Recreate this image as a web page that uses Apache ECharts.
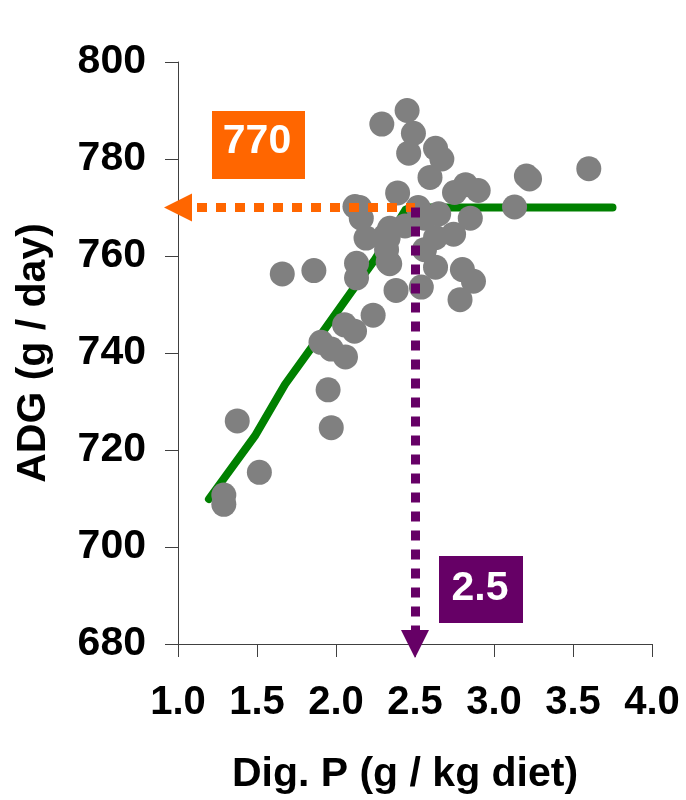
<!DOCTYPE html>
<html>
<head>
<meta charset="utf-8">
<title>ADG vs Dig. P</title>
<script src="https://cdn.jsdelivr.net/npm/echarts@6/dist/echarts.min.js"></script>
<style>
  html, body { margin: 0; padding: 0; background: #fff; }
  #chart { width: 686px; height: 800px; }
</style>
</head>
<body>
<div id="chart"></div>
<script>
// 散点数据 [Dig. P, ADG]
const pointX = [1.29, 1.29, 1.375, 1.515, 1.66, 1.86, 1.905, 1.97, 1.95, 1.97,
  2.06, 2.054, 2.117, 2.235, 2.12, 2.15, 2.16, 2.19, 2.13, 2.13,
  2.29, 2.45, 2.49, 2.46, 2.63, 2.67, 2.595, 2.39, 2.82, 2.75,
  2.9, 3.205, 3.225, 3.6, 3.13, 2.52, 2.65, 2.85, 2.34, 2.437,
  2.31, 2.32, 2.34, 2.63, 2.8, 2.87, 2.785, 2.38, 2.54, 2.63,
  2.744, 2.56, 2.56, 2.33, 2.33];
const pointY = [710.7, 708.8, 726.0, 715.4, 756.3, 757.0, 742.2, 740.8, 732.4, 724.6,
  739.2, 745.8, 744.5, 747.8, 770.2, 770.0, 767.8, 763.7, 758.5, 755.5,
  787.2, 790.0, 785.3, 781.2, 782.2, 780.0, 776.2, 773.0, 774.7, 773.1,
  773.5, 776.5, 775.9, 778.0, 770.1, 770.0, 768.7, 767.8, 765.7, 766.2,
  764.1, 761.3, 758.4, 757.7, 757.2, 754.8, 751.0, 752.9, 753.6, 763.8,
  764.5, 767.8, 761.3, 763.7, 758.8];

// 拟合线
const fitX = [1.196, 1.487, 1.677, 1.867, 2.099, 2.247, 2.44, 2.47, 3.75];
const fitY = [709.9, 722.9, 733.5, 742.1, 752.7, 759.3, 769.5, 770.0, 770.0];

// 读数
const plateauY = 770;
const breakX = 2.5;

const xTicks = { min: 1, max: 4, interval: 0.5 };
const yTicks = { min: 680, max: 800, interval: 20 };

const font = 'Liberation Sans, Arial, sans-serif';

const chart = echarts.init(document.getElementById('chart'), null, { renderer: 'canvas' });

const axisLineStyle = { color: '#404040', width: 1 };

const option = {
  backgroundColor: '#fff',
  animation: false,
  grid: { left: 178, right: 34, top: 62, bottom: 155 },
  xAxis: {
    type: 'value',
    min: xTicks.min,
    max: xTicks.max,
    interval: xTicks.interval,
    name: 'Dig. P (g / kg diet)',
    nameLocation: 'middle',
    nameGap: 110,
    nameTextStyle: { fontFamily: font, fontWeight: 'bold', fontSize: 41, color: '#000', padding: [0, 20, 0, 0] },
    axisLine: { show: true, onZero: false, lineStyle: axisLineStyle },
    axisTick: { show: true, length: 13, lineStyle: axisLineStyle },
    splitLine: { show: false },
    axisLabel: {
      margin: 39,
      fontFamily: font,
      fontWeight: 'bold',
      fontSize: 40,
      color: '#000',
      formatter: (v) => v.toFixed(1),
    },
  },
  yAxis: {
    type: 'value',
    min: yTicks.min,
    max: yTicks.max,
    interval: yTicks.interval,
    name: 'ADG (g / day)',
    nameLocation: 'middle',
    nameGap: 124,
    nameTextStyle: { fontFamily: font, fontWeight: 'bold', fontSize: 41, color: '#000' },
    axisLine: { show: true, onZero: false, lineStyle: axisLineStyle },
    axisTick: { show: true, length: 13, lineStyle: axisLineStyle },
    splitLine: { show: false },
    axisLabel: {
      margin: 32,
      fontFamily: font,
      fontWeight: 'bold',
      fontSize: 41,
      color: '#000',
    },
  },
  series: [
    {
      // 绿色拟合线
      type: 'line',
      data: fitX.map((x, i) => [x, fitY[i]]),
      showSymbol: false,
      symbol: 'none',
      lineStyle: { color: '#008000', width: 8, cap: 'round', join: 'round' },
      z: 2,
    },
    {
      // 灰色散点
      type: 'scatter',
      data: pointX.map((x, i) => [x, pointY[i]]),
      symbolSize: 25,
      itemStyle: { color: '#808080', opacity: 1 },
      z: 3,
    },
    {
      // 虚线箭头
      type: 'line',
      data: [],
      z: 5,
      markLine: {
        silent: true,
        animation: false,
        label: { show: false },
        data: [
          [
            { coord: [xTicks.min, plateauY], symbol: 'triangle', symbolSize: [28, 28],
              lineStyle: { color: '#FF6600', width: 9, type: [10, 9], cap: 'butt' } },
            { coord: [breakX, plateauY], symbol: 'none' },
          ],
          [
            { coord: [breakX, plateauY], symbol: 'none',
              lineStyle: { color: '#660066', width: 9, type: [10, 9], cap: 'butt' } },
            { coord: [breakX, yTicks.min], symbol: 'triangle', symbolSize: [28, 28] },
          ],
        ],
      },
    },
  ],
  graphic: [
    { type: 'rect', left: 212, top: 111, shape: { width: 93, height: 68 }, style: { fill: '#FF6600' }, z: 10 },
    { type: 'text', x: 257, y: 142, style: { text: String(plateauY), fill: '#fff', font: 'bold 41px ' + font, textAlign: 'center', textVerticalAlign: 'middle' }, z: 11 },
    { type: 'rect', left: 439, top: 556, shape: { width: 84, height: 67 }, style: { fill: '#660066' }, z: 10 },
    { type: 'text', x: 480, y: 589, style: { text: breakX.toFixed(1), fill: '#fff', font: 'bold 41px ' + font, textAlign: 'center', textVerticalAlign: 'middle' }, z: 11 },
  ],
};

chart.setOption(option);
</script>
</body>
</html>
